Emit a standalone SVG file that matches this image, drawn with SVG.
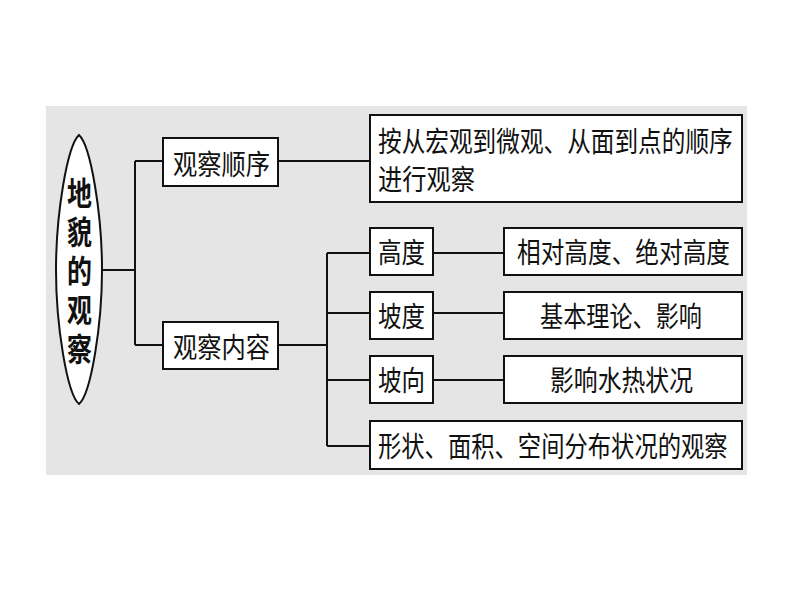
<svg xmlns="http://www.w3.org/2000/svg" width="794" height="596" viewBox="0 0 794 596">
<style>
.box{fill:#ffffff;stroke:#111111;stroke-width:2}
.ln{fill:none;stroke:#111111;stroke-width:2}
.t{font-family:"Noto Sans CJK SC","Noto Sans",sans-serif;font-size:28px;fill:#111111}
.tb{font-family:"Noto Sans CJK SC","Noto Sans",sans-serif;font-size:32px;font-weight:bold;fill:#111111;writing-mode:vertical-rl;letter-spacing:7px}
</style>
<rect x="0" y="0" width="794" height="596" fill="#ffffff"/>
<rect x="46" y="106" width="701" height="369" fill="#e5e5e5"/>
<g id="connectors">
<path class="ln" d="M101,270 H135 M135,161 V345 M135,161 H163 M135,345 H163"/>
<path class="ln" d="M278,161 H370"/>
<path class="ln" d="M278,345 H327 M327,253 V446 M327,253 H370 M327,313 H370 M327,380 H370 M327,446 H370"/>
<path class="ln" d="M433,253 H504 M433,313 H504 M433,380 H504"/>
</g>
<g id="root">
<path class="box" d="M79,135 C91,146 102,215 102,270 C102,325 91,394 79,404 C67,394 56,325 56,270 C56,215 67,146 79,135 Z"/>
<text class="tb" transform="translate(79.5,177) scale(0.78,1)" x="0" y="0">地貌的观察</text>
</g>
<g id="order">
<rect class="box" x="163" y="138" width="115" height="48"/>
<text class="t" x="173" y="175" textLength="97" lengthAdjust="spacingAndGlyphs">观察顺序</text>
</g>
<g id="order-detail">
<rect class="box" x="370" y="115" width="372" height="87"/>
<text class="t" transform="translate(378,152) scale(0.845,1)" x="0" y="0">按从宏观到微观、从面到点的顺序</text>
<text class="t" x="378" y="190" textLength="97" lengthAdjust="spacingAndGlyphs">进行观察</text>
</g>
<g id="content">
<rect class="box" x="163" y="322" width="115" height="47"/>
<text class="t" x="173" y="358" textLength="97" lengthAdjust="spacingAndGlyphs">观察内容</text>
</g>
<g id="height">
<rect class="box" x="370" y="228" width="63" height="47"/>
<text class="t" x="378" y="263" textLength="47" lengthAdjust="spacingAndGlyphs">高度</text>
</g>
<g id="height-detail">
<rect class="box" x="504" y="228" width="238" height="47"/>
<text class="t" x="517" y="263" textLength="213" lengthAdjust="spacingAndGlyphs">相对高度、绝对高度</text>
</g>
<g id="slope">
<rect class="box" x="370" y="292" width="63" height="47"/>
<text class="t" x="378" y="327" textLength="47" lengthAdjust="spacingAndGlyphs">坡度</text>
</g>
<g id="slope-detail">
<rect class="box" x="504" y="292" width="238" height="47"/>
<text class="t" x="540" y="327" textLength="162" lengthAdjust="spacingAndGlyphs">基本理论、影响</text>
</g>
<g id="aspect">
<rect class="box" x="370" y="356" width="63" height="47"/>
<text class="t" x="378" y="391" textLength="47" lengthAdjust="spacingAndGlyphs">坡向</text>
</g>
<g id="aspect-detail">
<rect class="box" x="504" y="356" width="238" height="47"/>
<text class="t" x="550" y="391" textLength="143" lengthAdjust="spacingAndGlyphs">影响水热状况</text>
</g>
<g id="shape">
<rect class="box" x="370" y="421" width="372" height="48"/>
<text class="t" transform="translate(378,457) scale(0.833,1)" x="0" y="0">形状、面积、空间分布状况的观察</text>
</g>
</svg>
